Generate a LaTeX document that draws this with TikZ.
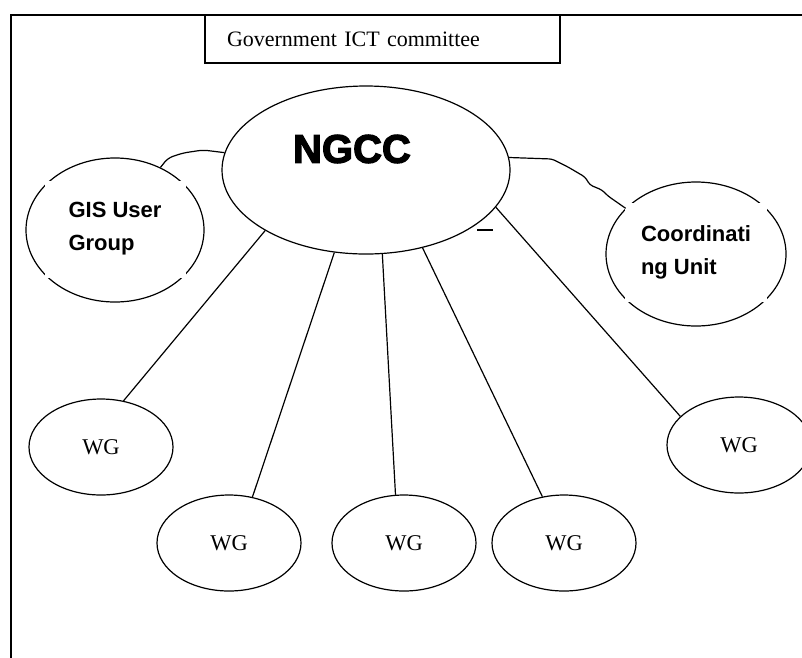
\documentclass[tikz,border=0pt]{standalone}
\usepackage{fontspec}
\setmainfont{Liberation Serif}
\newfontfamily\arialfont{Liberation Sans}
\newfontfamily\heavyfont[BoldFeatures={FakeBold=3}]{Liberation Sans}
\usetikzlibrary{shapes.geometric}
\begin{document}
\begin{tikzpicture}[x=1pt,y=-1pt,
    bubble/.style={draw,ellipse,line width=1.2pt,inner sep=0pt},
    wg/.style={bubble,minimum width=144pt,minimum height=96pt,font=\fontsize{22.5}{26}\selectfont},
    boxtext/.style={fill=white,align=left,inner sep=0pt,font=\arialfont\bfseries\fontsize{22}{33}\selectfont}]
  \useasboundingbox (0,0) rectangle (802,657);
  \clip (0,0) rectangle (802,657);
  \draw[line width=2.2pt] (11,15) rectangle (830,700);
  \node[draw,line width=1.3pt,minimum height=48pt,text width=311pt,inner xsep=22pt,align=left,
    font=\fontsize{22}{26}\selectfont] (gov) at (382.5,39) {Government ICT committee};
  \draw
    (366,170) node[bubble,minimum width=288pt,minimum height=168pt] (ngcc){}
    (352,149) node[font=\heavyfont\bfseries\fontsize{40}{42}\selectfont] (ngcclabel){NGCC}
    (115,230) node[bubble,minimum width=178pt,minimum height=144pt] (gis){}
    (115,229) node[boxtext,minimum width=141pt,minimum height=97pt] (gislabel){GIS User\\Group}
    (696,254) node[bubble,minimum width=180pt,minimum height=144pt] (cu){}
    (696,252) node[boxtext,minimum width=142pt,minimum height=99pt] (culabel){Coordinati\\ng Unit}
    (101,447) node[wg] (wg1){WG}
    (229,543) node[wg] (wg2){WG}
    (404,543) node[wg] (wg3){WG}
    (564,543) node[wg] (wg4){WG}
    (739,445) node[wg] (wg5){WG};
  \coordinate (dashl) at (477,230);
  \coordinate (dashr) at (493,230);
  \begin{scope}[line width=1.2pt]
    \draw (ngcc.211) to (wg1.64);
    \draw (ngcc.249) to (wg2.63);
    \draw (ngcc.281) to (wg3.100);
    \draw (ngcc.306) to (wg4.115);
    \draw (ngcc.344) to (wg5.154);
    \draw (dashl) to (dashr);
    \draw[rounded corners=5pt] (ngcc.173) -- (203,150) -- (183,153) -- (168,158) -- (gis.54);
    \draw[rounded corners=3pt] (ngcc.5) -- (552,159) -- (568,167) -- (585,177) -- (590,185)
      -- (602,190) -- (608,196) -- (cu.147);
  \end{scope}
\end{tikzpicture}
\end{document}
